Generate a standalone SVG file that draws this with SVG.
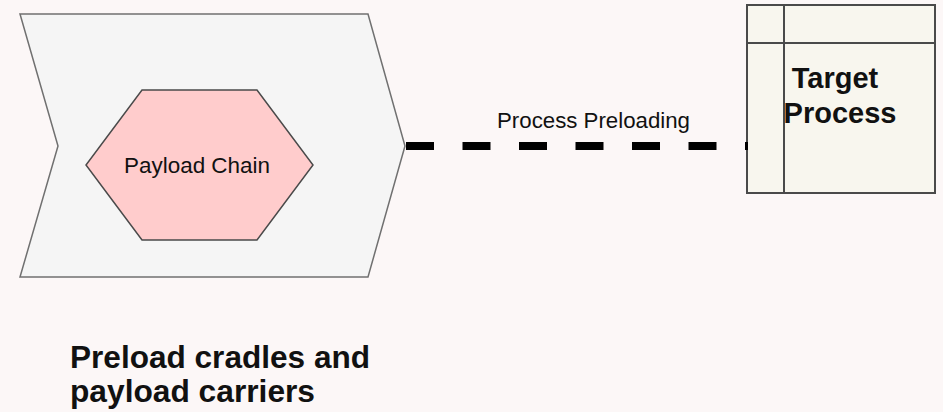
<svg xmlns="http://www.w3.org/2000/svg" width="943" height="412" viewBox="0 0 943 412">
<style>
text{font-family:"Liberation Sans",Arial,Helvetica,sans-serif;fill:#111}
.b{font-weight:bold}
</style>
<rect width="943" height="412" fill="#fcf7f7"/>
<g id="cradle">
<polygon points="20,14 368,14 405,146 368,277 20,277 58,146" fill="#f5f5f5" stroke="#707070" stroke-width="1.5"/>
</g>
<g id="payload-chain">
<polygon points="142,90 257,90 313,165 257,240 142,240 86,165" fill="#ffcccc" stroke="#4a4a4a" stroke-width="1.5"/>
<text x="124" y="173" font-size="22" textLength="146" lengthAdjust="spacingAndGlyphs">Payload Chain</text>
</g>
<g id="target-process">
<rect x="747" y="5" width="188" height="188" fill="#f8f6ee" stroke="#4a4a4a" stroke-width="2"/>
<line x1="747" y1="43" x2="935" y2="43" stroke="#4a4a4a" stroke-width="2"/>
<line x1="784" y1="5" x2="784" y2="193" stroke="#4a4a4a" stroke-width="2"/>
<text class="b" x="835" y="88" font-size="29" text-anchor="middle">Target</text>
<text class="b" x="840" y="123" font-size="29" text-anchor="middle">Process</text>
</g>
<g id="connectors">
<line x1="406" y1="146" x2="748" y2="146" stroke="#000" stroke-width="8" stroke-dasharray="28 28.5"/>
<text x="497" y="128" font-size="21.5" textLength="193" lengthAdjust="spacingAndGlyphs">Process Preloading</text>
</g>
<g id="caption">
<text class="b" x="70" y="368" font-size="30.5" textLength="300" lengthAdjust="spacingAndGlyphs">Preload cradles and</text>
<text class="b" x="70" y="402" font-size="30.5" textLength="245" lengthAdjust="spacingAndGlyphs">payload carriers</text>
</g>
</svg>
